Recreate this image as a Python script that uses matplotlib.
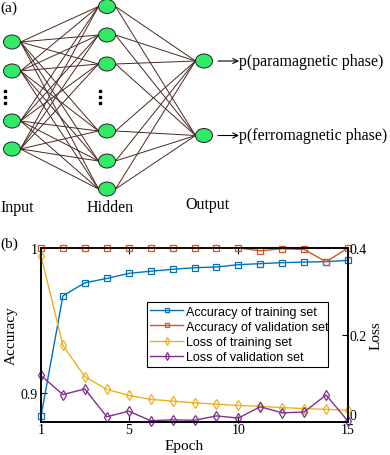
import matplotlib
matplotlib.use("Agg")
import matplotlib.pyplot as plt
from matplotlib.patches import Ellipse
import numpy as np

# ---------------- data ----------------
epochs = list(range(1, 16))
acc_train = [0.884, 0.967, 0.976, 0.979, 0.9825, 0.984, 0.9853, 0.9864, 0.9869,
             0.9885, 0.9892, 0.9899, 0.9903, 0.9906, 0.9915]
acc_val = [1.0, 1.0, 1.0, 1.0, 1.0, 1.0, 1.0, 1.0, 1.0, 1.0,
           0.9981, 0.9995, 0.999, 0.9905, 1.0]
loss_train = [0.382, 0.176, 0.104, 0.075, 0.061, 0.052, 0.048, 0.044, 0.041,
              0.038, 0.036, 0.033, 0.031, 0.029, 0.027]
loss_val = [0.107, 0.063, 0.076, 0.012, 0.025, 0.003, 0.005, 0.004, 0.014,
            0.009, 0.035, 0.021, 0.023, 0.062, 0.002]
series_labels = ["Accuracy of training set", "Accuracy of validation set",
                 "Loss of training set", "Loss of validation set"]
x_ticks = [1, 5, 10, 15]
acc_ticks = [0.9, 1.0]
acc_tick_labels = ["0.9", "1"]
loss_ticks = [0.0, 0.2, 0.4]
loss_tick_labels = ["0", "0.2", "0.4"]

# network diagram (pixel layout of panel a)
input_y = [43, 72, 122, 150]
hidden_y = [7.5, 36, 65, 132, 162, 190]
output_y = [62, 136.5]
layer_x = [12, 107, 204]
layer_names = ["Input", "Hidden", "Output"]
output_labels = ["p(paramagnetic phase)", "p(ferromagnetic phase)"]

W, H = 390, 456
fig = plt.figure(figsize=(W / 100, H / 100), dpi=100)

serif = "Liberation Serif"
sans = "Liberation Sans"

# ---------------- panel (a) ----------------
axa = fig.add_axes([0, 0, 1, 1])
axa.set_xlim(0, W)
axa.set_ylim(H, 0)
axa.axis("off")

nw, nh = 17, 14
edge_col = "#4a2822"
def connect(xa, ya_list, xb, yb_list):
    for ya in ya_list:
        for yb in yb_list:
            axa.plot([xa + nw / 2, xb - nw / 2], [ya, yb], color=edge_col, lw=0.7, zorder=1)

connect(layer_x[0], input_y, layer_x[1], hidden_y)
connect(layer_x[1], hidden_y, layer_x[2], output_y)

for x, ys in zip(layer_x, [input_y, hidden_y, output_y]):
    for y in ys:
        axa.add_patch(Ellipse((x, y), nw, nh, facecolor="#33ea66", edgecolor="#222222",
                              lw=0.7, zorder=3))

# vertical ellipsis dots
for x in [5, 100]:
    for y in [92, 98, 104]:
        axa.plot(x, y, marker="s", ms=1.6, color="black", zorder=3)

for x, name, y in zip(layer_x, layer_names, [208, 208, 205]):
    axa.text(x + (5 if name == "Input" else 3), y, name, ha="center", va="center",
             fontsize=11.5, family=serif)

for y, lab in zip(output_y, output_labels):
    axa.annotate("", xy=(239, y), xytext=(218, y),
                 arrowprops=dict(arrowstyle="->", color="black", lw=0.8,
                                 shrinkA=0, shrinkB=0, mutation_scale=9))
    axa.text(239, y, lab, ha="left", va="center", fontsize=11.5, family=serif)

axa.text(0, 8, "(a)", ha="left", va="center", fontsize=11, family=serif)
axa.text(0, 244, "(b)", ha="left", va="center", fontsize=11, family=serif)

# ---------------- panel (b) ----------------
L, R, T, B = 41, 348, 249, 423
ax = fig.add_axes([L / W, (H - B) / H, (R - L) / W, (B - T) / H])
ax2 = ax.twinx()

c_blue, c_orange, c_yellow, c_purple = "#0072BD", "#D95319", "#EDB120", "#7E2F8E"

h1, = ax.plot(epochs, acc_train, color=c_blue, lw=1.0, marker="s", ms=4,
              mfc="none", mew=0.9, label=series_labels[0], clip_on=False, zorder=3)
h2, = ax.plot(epochs, acc_val, color=c_orange, lw=1.0, marker="s", ms=4,
              mfc="none", mew=0.9, label=series_labels[1], clip_on=False, zorder=3)
h3, = ax2.plot(epochs, loss_train, color=c_yellow, lw=1.0, marker="d", ms=5,
               mfc="none", mew=0.9, label=series_labels[2], clip_on=False)
h4, = ax2.plot(epochs, loss_val, color=c_purple, lw=1.0, marker="d", ms=5,
               mfc="none", mew=0.9, label=series_labels[3], clip_on=False)

ax.set_xlim(1, 15)
ax.set_ylim(0.88, 1.0)
ax2.set_ylim(0, 0.4)

ax.set_xticks(x_ticks)
ax.set_xticklabels([str(t) for t in x_ticks], family=serif, fontsize=10)
ax.set_yticks(acc_ticks)
ax.set_yticklabels(acc_tick_labels, family=serif, fontsize=10)
ax2.set_yticks(loss_ticks)
ax2.set_yticklabels(loss_tick_labels, family=serif, fontsize=10)
ax2.get_yticklabels()[0].set_verticalalignment("bottom")

ax.tick_params(direction="in", length=4, width=0.8, top=True, right=False, pad=1)
ax.tick_params(axis="y", pad=2)
ax2.tick_params(direction="in", length=4, width=0.8, pad=1)
for a in (ax, ax2):
    for s in a.spines.values():
        s.set_linewidth(1.2)
        s.set_color("black")

ax.set_xlabel("Epoch", family=serif, fontsize=11)
ax.xaxis.set_label_coords(0.466, -0.10)
ax.set_ylabel("Accuracy", family=serif, fontsize=11, labelpad=2)
ax2.set_ylabel("Loss", family=serif, fontsize=11, labelpad=2)

leg = ax2.legend(handles=[h1, h2, h3, h4], loc="upper left",
                 bbox_to_anchor=(0.344, 0.69, 0.59, 0.0), mode="expand",
                 prop={"family": sans, "size": 9}, frameon=True, fancybox=False,
                 edgecolor="black", framealpha=1, borderpad=0.3, labelspacing=0.25,
                 handlelength=2.6, handletextpad=0.25, borderaxespad=0, markerscale=0.8)
leg.get_frame().set_linewidth(0.8)

fig.savefig("out.png", dpi=100)
